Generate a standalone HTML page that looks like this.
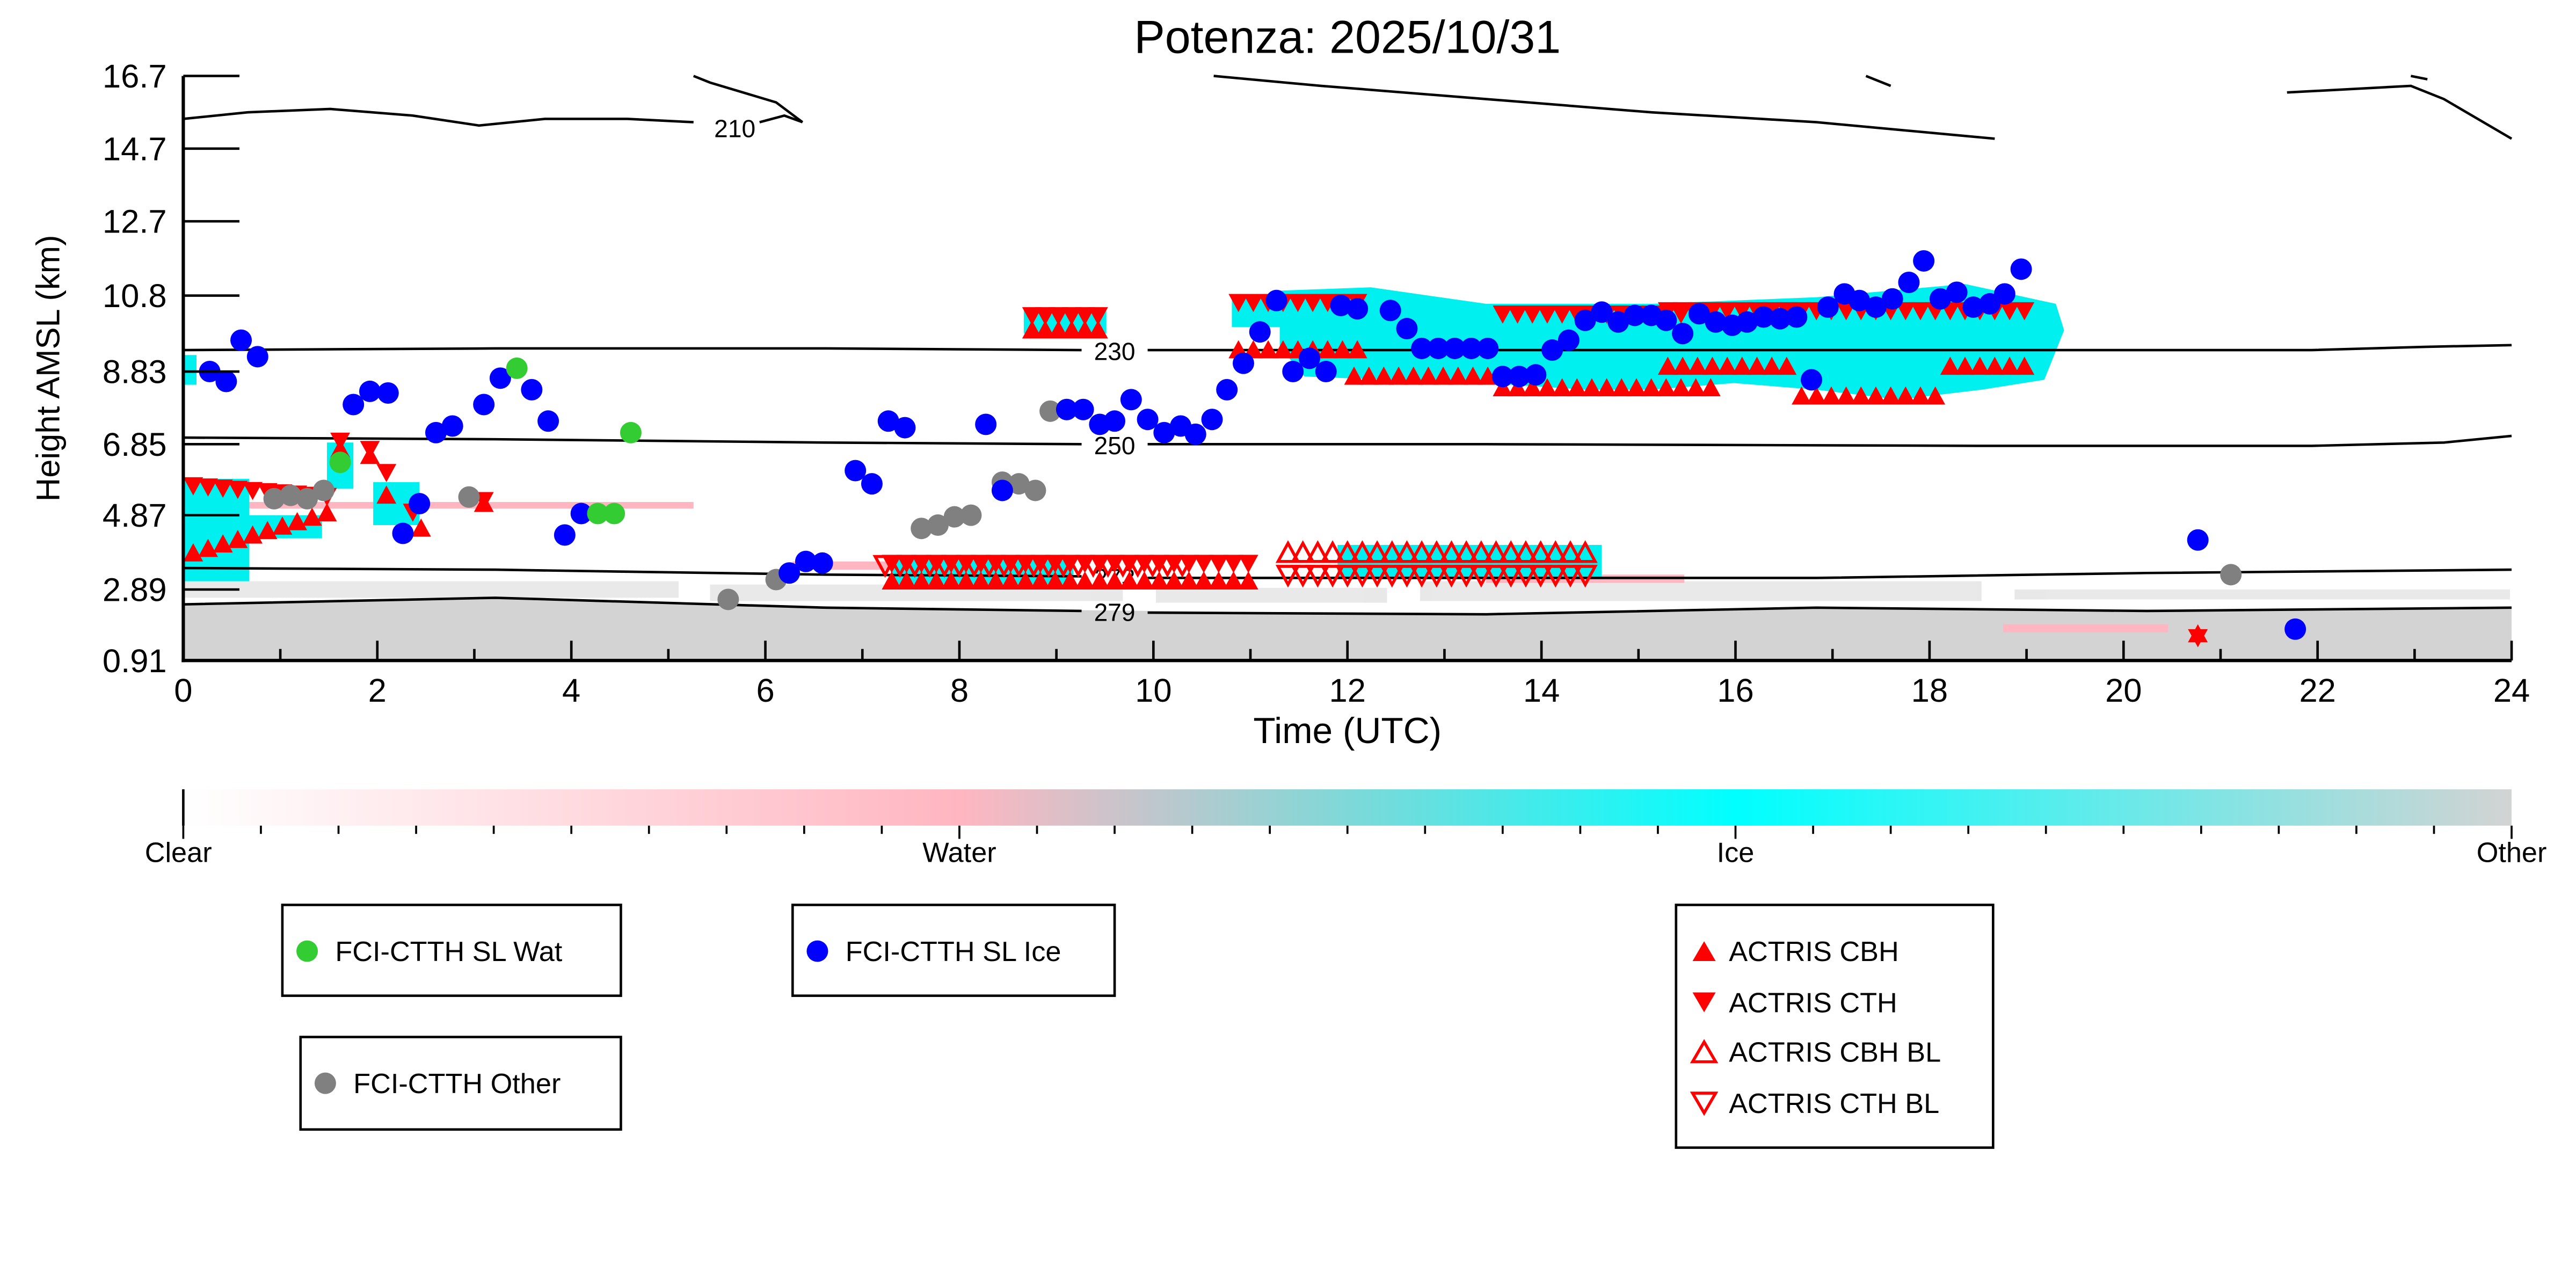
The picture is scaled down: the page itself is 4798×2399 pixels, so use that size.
<!DOCTYPE html>
<html><head><meta charset="utf-8"><style>
html,body{margin:0;padding:0;background:#fff}
svg{display:block}
text{font-family:"Liberation Sans","DejaVu Sans",sans-serif}
</style></head><body>
<svg id="s" width="4798" height="2399" viewBox="0 0 1560 780" xmlns="http://www.w3.org/2000/svg">
<defs>
<linearGradient id="cb" x1="0" x2="1" y1="0" y2="0">
<stop offset="0" stop-color="#ffffff"/>
<stop offset="0.333" stop-color="#ffb6c1"/>
<stop offset="0.5" stop-color="#7fd8d8"/>
<stop offset="0.667" stop-color="#00ffff"/>
<stop offset="1" stop-color="#d3d3d3"/>
</linearGradient>
</defs>
<text x="816" y="32" font-size="28" text-anchor="middle">Potenza: 2025/10/31</text>
<path d="M111,366 L300,362 L500,368 L700,370 L900,372 L1100,368 L1300,370 L1521,368 L1521,400 L111,400Z" fill="#d3d3d3"/>
<g fill="#d3d3d3" opacity="0.5">
<rect x="111" y="352" width="300" height="10"/>
<rect x="430" y="354" width="250" height="10"/>
<rect x="700" y="356" width="140" height="9"/>
<rect x="860" y="352" width="340" height="12"/>
<rect x="1220" y="357" width="300" height="6"/>
</g>
<rect x="1213" y="378" width="100" height="5" fill="#ffb6c1"/>
<g fill="#ffb6c1">
<rect x="150" y="304" width="270" height="4"/>
<rect x="480" y="340" width="170" height="5"/>
<rect x="900" y="348" width="120" height="5"/>
</g>
<g fill="#00f0f0">
<rect x="111" y="290" width="40" height="62"/>
<rect x="150" y="312" width="45" height="14"/>
<rect x="198" y="268" width="16" height="28"/>
<rect x="226" y="292" width="28" height="26"/>
<path d="M775,176 L830,174 L900,184 L1000,184 L1100,180 L1190,172 L1245,184 L1250,200 L1238,230 L1200,236 L1150,242 L1100,236 L1050,232 L1000,236 L960,236 L900,232 L840,230 L790,228 L775,210 Z"/>
<rect x="746" y="180" width="30" height="18"/>
<rect x="620" y="188" width="50" height="14"/>
<rect x="540" y="338" width="110" height="16"/>
<rect x="810" y="330" width="160" height="20"/>
<rect x="111" y="215" width="8" height="18"/>
</g>
<g fill="none" stroke="#000" stroke-width="1.5">
<path d="M111,72 L150,68 L200,66 L250,70 L290,76 L330,72 L380,72 L420,74"/>
<path d="M460,74 L475,70 L486,74"/>
<path d="M420,46 L430,50 L470,62 L486,74"/>
<path d="M735,46 L800,52 L900,60 L1000,68 L1100,74 L1208,84"/>
<path d="M1130,46 L1145,52"/>
<path d="M1385,56 L1460,52 L1480,60 L1521,84"/>
<path d="M1460,46 L1470,48"/>
<path d="M111,212 L300,211 L500,211 L655,212 M695,212 L900,212 L1200,212 L1400,212 L1470,210 L1521,209"/>
<path d="M111,265 L300,266 L500,268 L655,269 M695,269 L900,269 L1200,270 L1400,270 L1480,268 L1521,264"/>
<path d="M111,344 L300,345 L500,348 L655,349 M695,350 L900,350 L1100,350 L1300,347 L1521,345"/>
<path d="M111,366 L300,362 L500,368 L655,370 M695,371 L900,372 L1100,368 L1300,370 L1521,368"/>
</g>
<g font-size="15" text-anchor="middle">
<text x="445" y="83">210</text>
<text x="675" y="218">230</text>
<text x="675" y="275">250</text>
<text x="675" y="355">273</text>
<text x="675" y="376">279</text>
</g>
<g id="mk"></g>
<g stroke="#000" stroke-width="2" fill="none">
<line x1="111" y1="46" x2="111" y2="401"/>
<line x1="110" y1="400" x2="1521" y2="400"/>
</g>
<g stroke="#000" stroke-width="1.5" id="ticks"></g>
<g font-size="20" text-anchor="end">
<text x="101" y="53">16.7</text><text x="101" y="97">14.7</text><text x="101" y="141">12.7</text>
<text x="101" y="186">10.8</text><text x="101" y="232">8.83</text><text x="101" y="276">6.85</text>
<text x="101" y="319">4.87</text><text x="101" y="364">2.89</text><text x="101" y="407">0.91</text>
</g>
<g font-size="20" text-anchor="middle" id="xl"></g>
<text x="816" y="450" font-size="22" text-anchor="middle">Time (UTC)</text>
<text transform="translate(36,223) rotate(-90)" font-size="20" text-anchor="middle">Height AMSL (km)</text>
<rect x="111" y="478" width="1410" height="22" fill="url(#cb)"/>
<line x1="111" y1="478" x2="111" y2="500" stroke="#000" stroke-width="1.5"/>
<g id="cbt" stroke="#000" stroke-width="1.2"></g>
<g font-size="17" text-anchor="middle">
<text x="108" y="522">Clear</text><text x="581" y="522">Water</text><text x="1051" y="522">Ice</text><text x="1521" y="522">Other</text>
</g>
<g fill="none" stroke="#000" stroke-width="1.5">
<rect x="171" y="548" width="205" height="55"/>
<rect x="480" y="548" width="195" height="55"/>
<rect x="182" y="628" width="194" height="56"/>
<rect x="1015" y="548" width="192" height="147"/>
</g>
<circle cx="186" cy="576" r="6.5" fill="#33cc33"/>
<circle cx="495" cy="576" r="6.5" fill="#0000ff"/>
<circle cx="197" cy="656" r="6.5" fill="#808080"/>
<polygon points="1032,570 1039,582 1025,582" fill="#ff0000"/>
<polygon points="1025,601 1039,601 1032,613" fill="#ff0000"/>
<polygon points="1032,631 1039,643 1025,643" fill="none" stroke="#ff0000" stroke-width="1.8"/>
<polygon points="1025,662 1039,662 1032,674" fill="none" stroke="#ff0000" stroke-width="1.8"/>
<g font-size="17">
<text x="203" y="582">FCI-CTTH SL Wat</text>
<text x="512" y="582">FCI-CTTH SL Ice</text>
<text x="214" y="662">FCI-CTTH Other</text>
<text x="1047" y="582">ACTRIS CBH</text>
<text x="1047" y="613">ACTRIS CTH</text>
<text x="1047" y="643">ACTRIS CBH BL</text>
<text x="1047" y="674">ACTRIS CTH BL</text>
</g>
</svg>
<script>
var NS="http://www.w3.org/2000/svg";
function el(p,t,a){var e=document.createElementNS(NS,t);for(var k in a)e.setAttribute(k,a[k]);p.appendChild(e);return e;}
var T=document.getElementById("ticks");
[46,90,134,179,225,269,312,357].forEach(function(y){el(T,"line",{x1:111,y1:y,x2:145,y2:y});});
var X=document.getElementById("xl");
for(var h=0;h<=24;h++){var x=111+h*58.75;el(T,"line",{x1:x,y1:400,x2:x,y2:h%2?393:388});
if(h%2==0){var t=el(X,"text",{x:x,y:425});t.textContent=h;}}
var C=document.getElementById("cbt");
for(var i=0;i<=30;i++){var x=111+i*47;el(C,"line",{x1:x,y1:500,x2:x,y2:i%10==0?508:505});}
var M=document.getElementById("mk");
function up(x,y,f){el(M,"polygon",{points:(x)+","+(y-6)+" "+(x+6)+","+(y+5)+" "+(x-6)+","+(y+5),fill:f?"#f00":"none",stroke:"#f00","stroke-width":f?0:1.8});}
function dn(x,y,f){el(M,"polygon",{points:(x-6)+","+(y-5)+" "+(x+6)+","+(y-5)+" "+(x)+","+(y+6),fill:f?"#f00":"none",stroke:"#f00","stroke-width":f?0:1.8});}
var i,x;
for(x=117;x<200;x+=9){up(x,335-(x-117)*0.3,1);dn(x,294+(x-117)*0.08,1);}
up(206,272,1);dn(206,267,1);up(224,276,1);dn(224,272,1);up(234,300,1);dn(234,286,1);up(255,320,1);dn(250,310,1);up(293,305,1);dn(293,303,1);
for(x=540;x<760;x+=9){up(x,352,1);dn(x,341,1);}
for(x=625;x<670;x+=8){up(x,200,1);dn(x,191,1);}
for(x=750;x<830;x+=9){dn(x,183,1);up(x,212,1);}
for(x=820;x<910;x+=9){up(x,228,1);}
for(x=910;x<1040;x+=9){dn(x,190,1);up(x,235,1);}
for(x=1010;x<1230;x+=9){dn(x,188,1);up(x,x>1090&&x<1180?240:222,1);}
up(1331,384,1);dn(1331,386,1);
for(x=536;x<720;x+=9){dn(x,342,0);}
for(x=780;x<965;x+=9){dn(x,348,0);up(x,335,0);}
var blue=[[127,225],[137,231],[146,206],[156,216],[214,245],[224,237],[235,238],[244,323],[254,305],[264,262],[274,258],[293,245],[303,229],[322,236],[332,255],[342,324],[352,311],[478,347],[488,340],[498,341],[518,285],[528,293],[538,255],[548,259],[597,257],[607,297],[646,248],[656,248],[666,257],[675,255],[685,242],[695,254],[705,262],[715,258],[724,263],[734,254],[743,236],[753,220],[763,201],[773,182],[783,225],[793,217],[803,225],[812,185],[822,187],[842,188],[852,199],[861,211],[871,211],[881,211],[891,211],[901,211],[910,228],[920,228],[930,227],[940,212],[950,206],[960,194],[970,189],[980,195],[990,191],[1000,191],[1009,194],[1019,202],[1029,190],[1039,195],[1049,197],[1058,195],[1068,192],[1078,193],[1088,192],[1097,230],[1107,186],[1117,178],[1126,182],[1136,186],[1146,181],[1156,171],[1165,158],[1175,181],[1185,177],[1195,186],[1205,184],[1214,178],[1224,163],[1331,327],[1390,381]];
var green=[[206,280],[313,223],[362,311],[372,311],[382,262]];
var gray=[[166,302],[176,300],[186,302],[196,297],[284,301],[441,363],[470,351],[558,320],[568,318],[578,313],[588,312],[607,292],[617,293],[627,297],[636,249],[1351,348]];
gray.forEach(function(p){el(M,"circle",{cx:p[0],cy:p[1],r:6.5,fill:"#808080"});});
blue.forEach(function(p){el(M,"circle",{cx:p[0],cy:p[1],r:6.5,fill:"#0000ff"});});
green.forEach(function(p){el(M,"circle",{cx:p[0],cy:p[1],r:6.5,fill:"#33cc33"});});
</script>
</body></html>
